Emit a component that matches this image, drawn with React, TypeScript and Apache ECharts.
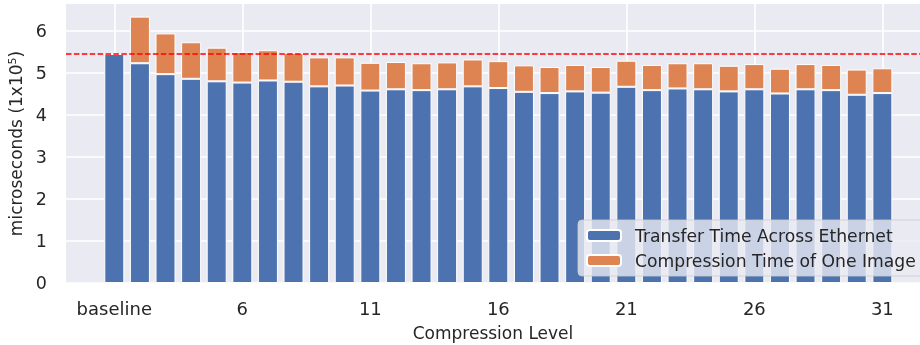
import React, { useEffect, useRef } from "react";
import * as echarts from "echarts";

const categories = ["baseline", "2", "3", "4", "5", "6", "7", "8", "9", "10", "11", "12", "13", "14", "15", "16", "17", "18", "19", "20", "21", "22", "23", "24", "25", "26", "27", "28", "29", "30", "31"];

// values in units of 1x10^5 microseconds
const transferTime = [5.45, 5.23, 4.97, 4.86, 4.80, 4.77, 4.82, 4.79, 4.68, 4.70, 4.58, 4.61, 4.59, 4.61, 4.68, 4.64, 4.55, 4.52, 4.56, 4.53, 4.67, 4.59, 4.63, 4.61, 4.56, 4.61, 4.51, 4.61, 4.59, 4.48, 4.52];
const compressionTime = [0, 1.11, 0.97, 0.87, 0.80, 0.73, 0.72, 0.69, 0.69, 0.67, 0.66, 0.65, 0.64, 0.64, 0.64, 0.64, 0.63, 0.62, 0.63, 0.61, 0.62, 0.60, 0.60, 0.62, 0.61, 0.60, 0.59, 0.60, 0.60, 0.60, 0.59];
const baselineTotal = 5.45;
const yTicks = [0, 1, 2, 3, 4, 5, 6];

const FONT = "DejaVu Sans";
const TEXT = "#262626";

export default function App() {
  const ref = useRef<HTMLDivElement>(null);
  useEffect(() => {
    if (!ref.current) return;
    const chart = echarts.init(ref.current, undefined, { renderer: "svg" });
    // value first, position second, so the stack is computed on the value dimension
    const toYX = (arr: number[]) => arr.map((v, i) => [v, i]);
    chart.setOption({
      animation: false,
      textStyle: { fontFamily: FONT, color: TEXT },
      grid: {
        left: 66,
        right: 0,
        top: 4,
        bottom: 62,
        outerBoundsMode: "none",
        containLabel: false,
        show: true,
        backgroundColor: "#EAEAF2",
        borderWidth: 0,
      },
      xAxis: {
        type: "value",
        min: -1.887,
        max: 31.47,
        scale: true,
        name: "Compression Level",
        nameLocation: "middle",
        nameGap: 41,
        nameTextStyle: { fontFamily: FONT, fontSize: 17, color: TEXT },
        axisLine: { show: false },
        axisTick: { show: false },
        axisLabel: {
          fontFamily: FONT,
          fontSize: 18,
          color: TEXT,
          margin: 16,
          showMinLabel: false,
          showMaxLabel: false,
          formatter: (v: number) => {
            const idx = Math.round(v);
            if (Math.abs(v - idx) > 1e-6) return "";
            return categories[idx] ?? "";
          },
        },
        splitLine: {
          show: true,
          showMinLine: false,
          showMaxLine: false,
          lineStyle: { color: "#ffffff", width: 1.6 },
        },
      },
      yAxis: {
        type: "value",
        min: yTicks[0],
        max: 6.64,
        interval: 1,
        name: "microseconds (1x10{sup|5})",
        nameLocation: "middle",
        nameGap: 40,
        nameRotate: 90,
        nameTextStyle: {
          fontFamily: FONT,
          fontSize: 17,
          color: TEXT,
          rich: {
            sup: { fontFamily: FONT, fontSize: 11, color: TEXT, verticalAlign: "top", padding: [0, 0, 8, 0] },
          },
        },
        axisLine: { show: false },
        axisTick: { show: false },
        axisLabel: {
          fontFamily: FONT,
          fontSize: 17.5,
          color: TEXT,
          margin: 19,
          showMaxLabel: false,
          formatter: (v: number) => (yTicks.includes(v) ? String(v) : ""),
        },
        splitLine: {
          show: true,
          showMaxLine: false,
          lineStyle: { color: "#ffffff", width: 1.6 },
        },
      },
      legend: {
        orient: "vertical",
        left: 578,
        top: 220,
        padding: [7, 10, 7, 8],
        itemWidth: 34,
        itemHeight: 11,
        itemGap: 8,
        backgroundColor: "rgba(234,234,242,0.8)",
        borderColor: "rgba(204,204,204,0.8)",
        borderWidth: 1,
        borderRadius: 4,
        textStyle: { fontFamily: FONT, fontSize: 17.2, color: TEXT, padding: [0, 0, 0, 9] },
        data: ["Transfer Time Across Ethernet", "Compression Time of One Image"],
      },
      series: [
        {
          name: "Transfer Time Across Ethernet",
          type: "bar",
          stack: "total",
          barWidth: 20,
          encode: { x: 1, y: 0 },
          data: toYX(transferTime),
          itemStyle: { color: "#4C72B0", borderColor: "#ffffff", borderWidth: 1 },
        },
        {
          name: "Compression Time of One Image",
          type: "bar",
          stack: "total",
          barWidth: 20,
          encode: { x: 1, y: 0 },
          data: toYX(compressionTime),
          itemStyle: { color: "#DD8452", borderColor: "#ffffff", borderWidth: 1 },
          markLine: {
            silent: true,
            symbol: "none",
            label: { show: false },
            lineStyle: { color: "#ff0000", type: [5.5, 2.4], width: 1.5 },
            data: [{ yAxis: baselineTotal }],
            z: 10,
          },
        },
      ],
    });
    return () => chart.dispose();
  }, []);
  return <div ref={ref} style={{ position: "fixed", left: 0, top: 0, width: 920, height: 345 }} />;
}
